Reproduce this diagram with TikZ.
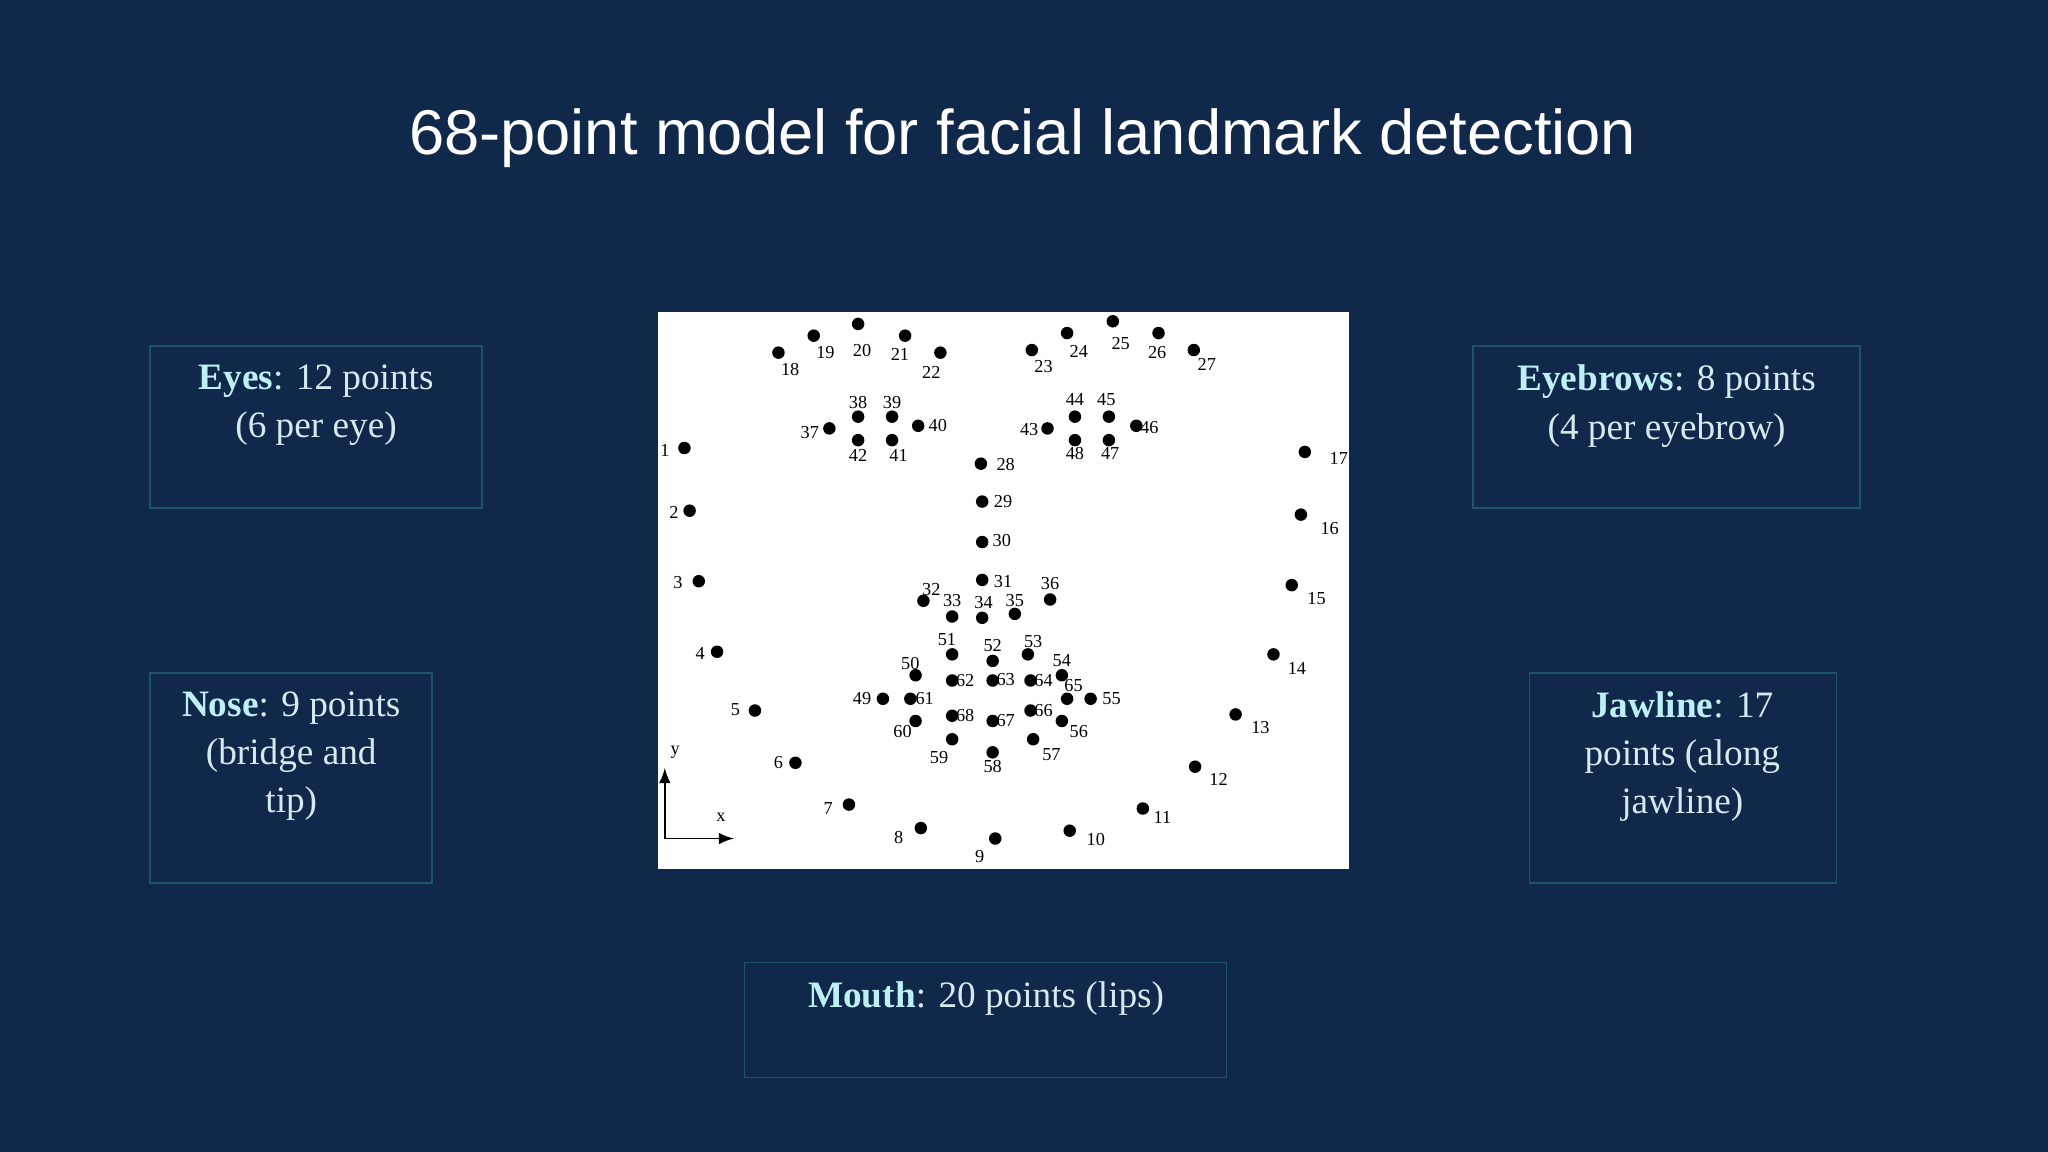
\documentclass[tikz,border=0pt]{standalone}
\usepackage{fontspec}
\setmainfont{Liberation Serif}
\newfontfamily\titlefont{Liberation Sans}
\definecolor{bg}{HTML}{10284A}
\definecolor{boxline}{HTML}{1E5566}
\definecolor{hl}{HTML}{BDEFF5}
\definecolor{bodytxt}{HTML}{D4EAEE}
\tikzset{
  dot/.style={circle,fill=black,inner sep=0pt,minimum size=1.25mm},
  lab/.style={font=\fontsize{5.2}{6}\selectfont,inner sep=0pt,text=black},
  infobox/.style={draw=boxline,line width=0.5pt,fill=bg},
  infotxt/.style={anchor=north,align=center,text=bodytxt,font=\fontsize{10.6}{13.7}\selectfont,inner sep=0pt}
}
\begin{document}
\begin{tikzpicture}[x=0.01306cm,y=-0.01306cm]
\fill[bg] (0,0) rectangle (1568,882);
\useasboundingbox (0,0) rectangle (1568,882);
\node[text=white,font=\titlefont\fontsize{18}{20}\selectfont] (title) at (783,106) {68-point model for facial landmark detection};
% boxes
\draw[infobox] (115,265) rectangle (369,389);
\node[infotxt] (eyes) at (242,279) {\textcolor{hl}{\textbf{Eyes}}: 12 points\\(6 per eye)};
\draw[infobox] (1128,265) rectangle (1424,389);
\node[infotxt] (brows) at (1276,279) {\textcolor{hl}{\textbf{Eyebrows}}: 8 points\\(4 per eyebrow)};
\draw[infobox] (115,515) rectangle (331,676);
\node[infotxt] (nose) at (223,529) {\textcolor{hl}{\textbf{Nose}}: 9 points\\(bridge and\\tip)};
\draw[infobox] (1171,515) rectangle (1406,676);
\node[infotxt] (jaw) at (1288,529) {\textcolor{hl}{\textbf{Jawline}}: 17\\points (along\\jawline)};
\draw[infobox] (570,737) rectangle (939,825);
\node[infotxt] (mouth) at (755,751) {\textcolor{hl}{\textbf{Mouth}}: 20 points (lips)};
% face panel
\fill[white] (504,239) rectangle (1033,665);
\foreach \n/\x/\y/\lx/\ly in {
1/524/343/509/345, 2/528/391/516/392, 3/535/445/519/446, 4/549/499/536/500,
5/578/544/563/543, 6/609/584/596/584, 7/650/616/634/619, 8/705/634/688/641,
9/762/642/750/656, 10/819/636/839/643, 11/875/619/890/626, 12/915/587/933/597,
13/946/547/965/557, 14/975/501/993/512, 15/989/448/1008/458, 16/996/394/1018/405,
17/999/346/1025/351,
18/596/270/605/283, 19/623/257/632/270, 20/657/248/660/268, 21/693/257/689/271,
22/720/270/713/285, 23/790/268/799/281, 24/817/255/826/269, 25/852/246/858/263,
26/887/255/886/270, 27/914/268/924/279,
28/751/355/770/356, 29/752/384/768/384, 30/752/415/767/414, 31/752/444/768/445,
32/707/460/713/451, 33/729/472/729/460, 34/752/473/753/461, 35/777/470/777/460,
36/804/459/804/447,
37/635/328/620/331, 38/657/319/657/308, 39/683/319/683/308, 40/703/326/718/326,
41/683/337/688/349, 42/657/337/657/349,
43/802/328/788/329, 44/823/319/823/306, 45/849/319/847/306, 46/870/326/880/327,
47/849/337/850/347, 48/823/337/823/347,
49/676/535/660/535, 50/701/517/697/508, 51/729/501/725/490, 52/760/506/760/494,
53/787/501/791/491, 54/813/517/813/506, 55/835/535/851/535, 56/813/552/826/560,
57/791/566/805/578, 58/760/576/760/587, 59/729/566/719/580, 60/701/552/691/560,
61/697/535/708/535, 62/729/521/739/521, 63/760/521/770/520, 64/789/521/799/521,
65/817/535/822/525, 66/789/544/799/544, 67/760/552/770/552, 68/729/548/739/548}
{
  \node[dot] (p\n) at (\x,\y) {};
  \node[lab] (l\n) at (\lx,\ly) {\n};
}
% axes
\coordinate (o) at (509,642);
\coordinate (ya) at (509,588);
\coordinate (xa) at (562,642);
\draw[-latex,line width=0.5pt] (o) -- (ya);
\draw[-latex,line width=0.5pt] (o) -- (xa);
\node[lab] (ylab) at (517,576) {y};
\node[lab] (xlab) at (552,626) {x};
\end{tikzpicture}
\end{document}
